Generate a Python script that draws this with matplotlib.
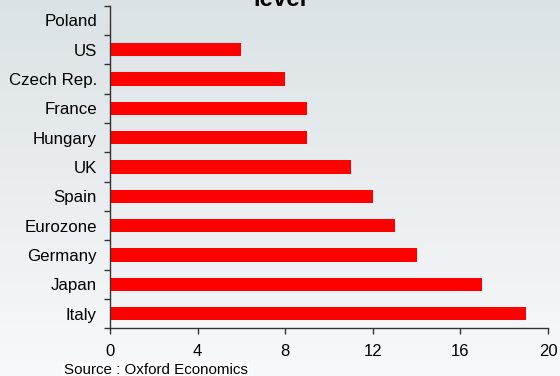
import numpy as np
import matplotlib.pyplot as plt

plt.rcParams['font.family'] = ['Liberation Sans', 'DejaVu Sans']

# Countries listed top to bottom, with their values
countries = ['Poland', 'US', 'Czech Rep.', 'France', 'Hungary', 'UK', 'Spain',
             'Eurozone', 'Germany', 'Japan', 'Italy']
values = [0, 6, 8, 9, 9, 11, 12, 13, 14, 17, 19]
xticks = [0, 4, 8, 12, 16, 20]

fig = plt.figure(figsize=(5.6, 3.76), dpi=100)

# soft vertical gradient behind everything
bg = fig.add_axes([0, 0, 1, 1], zorder=-10)
grad = np.linspace(0, 1, 256).reshape(-1, 1)
top = np.array([0xdb, 0xe2, 0xe5]) / 255
bottom = np.array([0xf8, 0xf9, 0xfa]) / 255
img = top + (bottom - top) * grad[:, :, None]
bg.imshow(img, aspect='auto', extent=[0, 1, 0, 1])
bg.axis('off')

ax = fig.add_axes([0.1964, 0.127, 0.7822, 0.858])
ax.set_facecolor('none')

y = np.arange(len(countries))[::-1]
ax.barh(y, values, height=0.46, color='#ff0000')

ax.set_xlim(0, 20)
ax.set_ylim(-0.5, len(countries) - 0.5)
ax.set_xticks(xticks)
ax.set_xticklabels([str(t) for t in xticks], fontsize=12)

# labels at category centres, tick marks on the boundaries
ax.set_yticks(y)
ax.set_yticklabels(countries, fontsize=12.2)
ax.tick_params(axis='y', which='major', length=0, pad=9.4)
ax.set_yticks(np.arange(-0.5, len(countries)), minor=True)
ax.tick_params(axis='y', which='minor', length=4, width=1, color='#333333')
ax.tick_params(axis='x', length=4, width=1, color='#333333', pad=7)

for s in ['top', 'right']:
    ax.spines[s].set_visible(False)
for s in ['left', 'bottom']:
    ax.spines[s].set_color('#333333')
    ax.spines[s].set_linewidth(1)

fig.text(0.5, 0.983, 'level', fontsize=17.3, fontweight='bold',
         ha='center', va='baseline')
fig.text(0.114, 0.016, 'Source : Oxford Economics', fontsize=10.9,
         ha='left', va='center',
         bbox=dict(facecolor='white', edgecolor='none', pad=1))

fig.savefig('out.png', dpi=100)
